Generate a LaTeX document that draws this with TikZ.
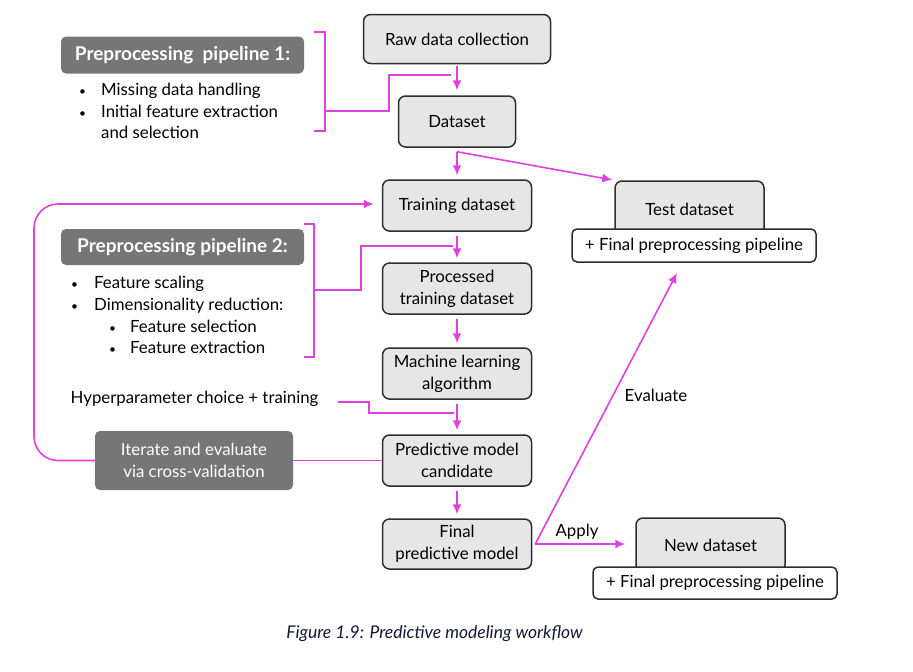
\documentclass[tikz,border=0pt]{standalone}
\usepackage{fontspec}
\setmainfont{Lato}
\usetikzlibrary{arrows.meta, positioning, calc}
\definecolor{flowpink}{RGB}{224, 64, 224}
\definecolor{boxgray}{RGB}{230, 230, 230}
\definecolor{hdrgray}{RGB}{118, 118, 118}
\definecolor{edgegray}{RGB}{45, 45, 45}
\definecolor{capnavy}{RGB}{20, 24, 50}
\newcommand{\dotmark}{{\fontsize{12}{12}\selectfont\textbullet}}

\begin{document}
\begin{tikzpicture}[
    x=1pt, y=-1pt,
    box/.style={rectangle, rounded corners=7pt, draw=edgegray, line width=1.5pt, fill=boxgray, minimum width=149pt, minimum height=51pt, font=\fontsize{16.8}{22}\selectfont, align=center, inner sep=2pt},
    hdr/.style={rectangle, rounded corners=5pt, fill=hdrgray, text=white, minimum width=243pt, minimum height=37pt, font=\fontsize{19}{22}\selectfont\bfseries},
    plusbox/.style={rectangle, rounded corners=5pt, draw=edgegray, line width=1.5pt, fill=white, minimum width=244pt, minimum height=33pt, font=\fontsize{16.8}{20}\selectfont},
    txt/.style={font=\fontsize{16.8}{20}\selectfont, anchor=base west, inner sep=0pt},
    lbl/.style={font=\fontsize{16.8}{20}\selectfont},
    arr/.style={-{Latex[length=10pt, width=9pt]}, flowpink, line width=1.6pt},
    link/.style={flowpink, line width=1.6pt},
]
\useasboundingbox (0,0) rectangle (913,672);

% Main column
\node[box, minimum width=187pt, minimum height=49pt] (raw) at (457,39) {Raw data collection};
\node[box, minimum width=117pt] (data) at (457,121.5) {Dataset};
\node[box] (train) at (457,205.5) {Training dataset};
\node[box] (proc) at (457,288.5) {Processed\\training dataset};
\node[box] (mla) at (457,373.5) {Machine learning\\algorithm};
\node[box] (cand) at (457,460.5) {Predictive model\\candidate};
\node[box, minimum height=50pt] (final) at (457,544) {Final\\predictive model};

% Test / new data
\node[box, minimum height=56pt] (test) at (689.5,209) {Test dataset};
\node[plusbox] (plus1) at (694,245.5) {+ Final preprocessing pipeline};
\node[box, minimum height=54pt] (new) at (710.5,545) {New dataset};
\node[plusbox, minimum height=32pt] (plus2) at (715,583) {+ Final preprocessing pipeline};

% Preprocessing pipeline 1
\node[hdr] (pp1) at (182.5,55) {Preprocessing\ \ pipeline 1:};
\node[txt] (pp1a) at (79,95) {\makebox[22pt][l]{\dotmark}Missing data handling};
\node[txt] (pp1b) at (79,117) {\makebox[22pt][l]{\dotmark}Initial feature extraction};
\node[txt] (pp1c) at (79,138) {\hspace{22pt}and selection};
\draw[link] (314,32) -- (325,32) -- (325,131) -- (314,131);
\coordinate (join1) at (451,75);
\draw[link] (325,111) -- (389,111) |- (join1);

% Preprocessing pipeline 2
\node[hdr, minimum height=36pt] (pp2) at (182.5,247) {Preprocessing pipeline 2:};
\node[txt] (pp2a) at (71,288) {\makebox[23pt][l]{\dotmark}Feature scaling};
\node[txt] (pp2b) at (71,310) {\makebox[23pt][l]{\dotmark}Dimensionality reduction:};
\node[txt] (pp2c) at (71,332) {\hspace{38pt}\makebox[21pt][l]{\dotmark}Feature selection};
\node[txt] (pp2d) at (71,353) {\hspace{38pt}\makebox[21pt][l]{\dotmark}Feature extraction};
\draw[link] (304,224) -- (314,224) -- (314,357) -- (304,357);
\coordinate (join2) at (453,246);
\draw[link] (314,290) -- (361,290) |- (join2);

% Hyperparameters and cross-validation loop
\node[lbl] (hyp) at (194.5,399) {Hyperparameter choice + training};
\coordinate (join3) at (454,413);
\draw[link] ([xshift=16pt,yshift=-3pt]hyp.east) -- ++(31,0) |- (join3);
\node[hdr, minimum width=198pt, minimum height=59pt, font=\fontsize{16.8}{22}\selectfont, align=center] (iter) at (194,460.5) {Iterate and evaluate\\via cross-validation};
\draw[link] (cand) -- (iter);
\draw[arr, rounded corners=24pt] (iter.west) -- (34,460.5) -- (34,204) -- ([xshift=-8pt]train.west |- 0,204);

% Vertical flow
\draw[arr, shorten <=2pt, shorten >=5pt] (raw) -- (data);
\coordinate (split) at ([yshift=-4pt]data.south);
\draw[arr, shorten >=4pt] (split) -- (train);
\draw[arr, shorten >=2pt] (split) -- (test.north west);
\draw[arr, shorten <=4pt, shorten >=4pt] (train) -- (proc);
\draw[arr, shorten <=4pt, shorten >=4pt] (proc) -- (mla);
\draw[arr, shorten <=4pt, shorten >=4pt] (mla) -- (cand);
\draw[arr, shorten <=4pt, shorten >=4pt] (cand) -- (final);

% Evaluate / apply
\coordinate (fork) at ([xshift=3pt]final.east);
\coordinate (evtip) at (677,273);
\draw[arr] (fork) -- (evtip);
\draw[arr, shorten >=10pt] (fork) -- (fork -| new.west);
\node[lbl] (evl) at (656,395) {Evaluate};
\node[lbl] (apl) at (577,532) {Apply};

\node[font=\fontsize{17.5}{20}\selectfont\itshape, text=capnavy] (cap) at (434.5,634) {Figure 1.9: Predictive modeling workflow};
\end{tikzpicture}
\end{document}
